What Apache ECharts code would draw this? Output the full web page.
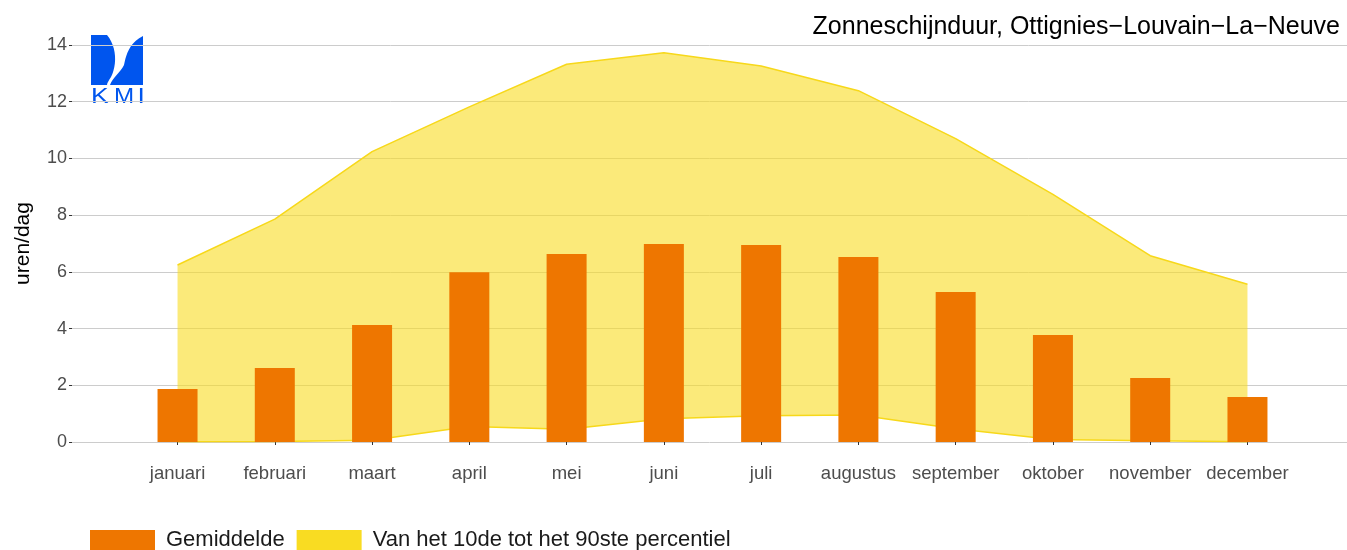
<!DOCTYPE html>
<html>
<head>
<meta charset="utf-8">
<script src="https://cdn.jsdelivr.net/npm/echarts@6/dist/echarts.min.js"></script>
<style>
html,body{margin:0;padding:0;background:#fff;}
#chart{width:1347px;height:550px;}
</style>
</head>
<body>
<div id="chart"></div>
<script>
var months = ['januari','februari','maart','april','mei','juni','juli','augustus','september','oktober','november','december'];
var gemiddelde = [1.87, 2.61, 4.13, 5.99, 6.63, 6.98, 6.95, 6.52, 5.29, 3.77, 2.26, 1.59];
var p10 = [0.01, 0.02, 0.06, 0.55, 0.45, 0.82, 0.93, 0.95, 0.47, 0.09, 0.04, 0.01];
var p90 = [6.24, 7.86, 10.24, 11.82, 13.32, 13.73, 13.26, 12.39, 10.70, 8.73, 6.57, 5.56];
var yTicks = [0, 2, 4, 6, 8, 10, 12, 14];
var titleText = 'Zonneschijnduur, Ottignies\u2212Louvain\u2212La\u2212Neuve';
var yName = 'uren/dag';
var nameMean = 'Gemiddelde';
var nameBand = 'Van het 10de tot het 90ste percentiel';

var FONT = '"Liberation Sans", Arial, sans-serif';
var bandWidth = p90.map(function (v, i) { return +(v - p10[i]).toFixed(3); });

// logo outline helper: sample cubic bezier segments into polygon points
function bez(p0, p1, p2, p3, n) {
  var out = [];
  for (var k = 1; k <= n; k++) {
    var t = k / n, u = 1 - t;
    out.push([
      u*u*u*p0[0] + 3*u*u*t*p1[0] + 3*u*t*t*p2[0] + t*t*t*p3[0],
      u*u*u*p0[1] + 3*u*u*t*p1[1] + 3*u*t*t*p2[1] + t*t*t*p3[1]
    ]);
  }
  return out;
}
var logoLeft = [[0,0],[16,0]]
  .concat(bez([16,0],[26,12],[26,30],[20,42],12))
  .concat(bez([20,42],[18,45],[16,48],[16,50],4))
  .concat([[0,50]]);
var logoRight = [[52,1],[52,50],[19,50]]
  .concat(bez([19,50],[21,43],[30,37],[33,30],8))
  .concat(bez([33,30],[35,20],[38,8],[52,1],10));

var chart = echarts.init(document.getElementById('chart'), null, {renderer: 'canvas'});
var option = {
  animation: false,
  backgroundColor: '#ffffff',
  title: {
    text: titleText, right: 7, top: 15, padding: 0,
    textStyle: {fontFamily: FONT, fontSize: 25, fontWeight: 'normal', color: '#000000'}
  },
  legend: {
    left: 90, top: 529, padding: 0, itemWidth: 65, itemHeight: 20, itemGap: 12,
    selectedMode: false,
    textStyle: {fontFamily: FONT, fontSize: 22, color: '#1a1a1a', padding: [0, 0, 0, 6]},
    data: [
      {name: nameMean, icon: 'rect', itemStyle: {color: '#EE7600', borderWidth: 0}},
      {name: nameBand, icon: 'rect', itemStyle: {color: '#F9DC22', borderWidth: 0, opacity: 1}}
    ]
  },
  grid: [
    {left: 72, right: 0, top: 45, bottom: 108, containLabel: false},
    {left: 128.9, right: 50.9, top: 45, bottom: 108, containLabel: false}
  ],
  xAxis: [
    {gridIndex: 0, type: 'value', min: 0, max: 1, show: false},
    {gridIndex: 1, type: 'category', data: months, boundaryGap: true, offset: 17,
     axisLine: {show: false},
     axisTick: {show: true, length: 3, alignWithLabel: true, lineStyle: {color: '#333333', width: 1}},
     axisLabel: {fontFamily: FONT, fontSize: 18.5, color: '#4d4d4d', margin: 5, interval: 0}}
  ],
  yAxis: [
    {gridIndex: 0, type: 'value', min: 0, max: 14, interval: 2,
     name: yName, nameLocation: 'middle', nameGap: 38,
     nameTextStyle: {fontFamily: FONT, fontSize: 21, color: '#000000'},
     axisLine: {show: false},
     axisTick: {show: true, length: 3, lineStyle: {color: '#333333', width: 1}},
     axisLabel: {fontFamily: FONT, fontSize: 18, color: '#4d4d4d', margin: 5,
       formatter: function (v) { return yTicks.indexOf(v) >= 0 ? String(v) : ''; }},
     splitLine: {show: true, lineStyle: {color: '#cccccc', width: 1}}},
    {gridIndex: 1, type: 'value', min: 0, max: 14, show: false}
  ],
  series: [
    {name: 'p10', type: 'line', xAxisIndex: 1, yAxisIndex: 1, stack: 'band', data: p10,
     symbol: 'none', z: 2, silent: true,
     lineStyle: {color: '#F7D81A', width: 1.5}},
    {name: nameBand, type: 'line', xAxisIndex: 1, yAxisIndex: 1, stack: 'band', data: bandWidth,
     symbol: 'none', z: 2, silent: true,
     itemStyle: {color: '#F9DC22'},
     lineStyle: {color: '#F7D81A', width: 1.5},
     areaStyle: {color: '#F9DC22', opacity: 0.6}},
    {name: nameMean, type: 'bar', xAxisIndex: 1, yAxisIndex: 1, data: gemiddelde,
     barWidth: 40, z: 3, itemStyle: {color: '#EE7600'}}
  ],
  graphic: [
    {type: 'polygon', x: 91, y: 35, shape: {points: logoLeft}, style: {fill: '#0055EE'}},
    {type: 'polygon', x: 91, y: 35, shape: {points: logoRight}, style: {fill: '#0055EE'}},
    {type: 'text', x: 91, y: 86, scaleX: 1.2, style: {text: 'K', fontFamily: FONT, fontSize: 22, fill: '#0055EE'}},
    {type: 'text', x: 114, y: 86, scaleX: 1.1, style: {text: 'M', fontFamily: FONT, fontSize: 22, fill: '#0055EE'}},
    {type: 'text', x: 137.5, y: 86, scaleX: 1.2, style: {text: 'I', fontFamily: FONT, fontSize: 22, fill: '#0055EE'}}
  ]
};
chart.setOption(option);
</script>
</body>
</html>
